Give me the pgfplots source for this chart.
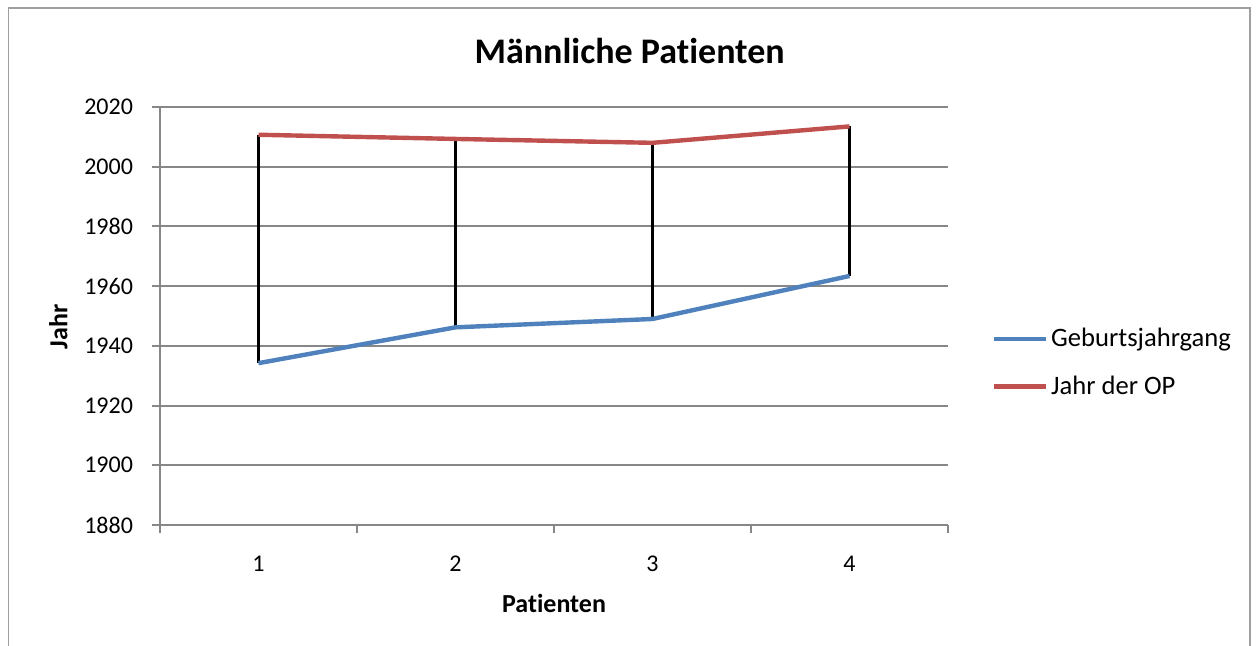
\documentclass[border=0pt]{standalone}
\usepackage{fontspec}
\setmainfont{Carlito}[Ligatures={NoCommon}]
\usepackage{pgfplots}
\pgfplotsset{compat=1.18}
\definecolor{xblue}{HTML}{4F81BD}
\definecolor{xred}{HTML}{C0504D}
\definecolor{xgrid}{HTML}{878787}
\begin{document}
\begin{tikzpicture}
\useasboundingbox (0pt,0pt) rectangle (629pt,323pt);
\draw[color=xgrid!80, line width=0.9pt] (4.2pt,0pt) -- (4.2pt,318.8pt) -- (624.8pt,318.8pt) -- (624.8pt,0pt);
\begin{axis}[
  at={(80pt,60.5pt)}, anchor=south west,
  scale only axis, width=394pt, height=209pt,
  xmin=0.5, xmax=4.5, ymin=1880, ymax=2020,
  xtick={1,2,3,4},
  minor xtick={0.5,1.5,2.5,3.5,4.5},
  ytick={1880,1900,...,2020},
  major x tick style={draw=none},
  minor x tick style={xgrid, line width=1pt},
  y tick style={xgrid, line width=1pt},
  tick align=outside,
  major tick length=4pt, minor tick length=4pt,
  axis x line*=bottom, axis y line*=left,
  axis line style={xgrid, line width=1pt, -},
  ymajorgrids, grid style={xgrid, line width=1pt},
  /pgf/number format/assume math mode=true,
  /pgf/number format/1000 sep={},
  tick label style={font=\fontsize{12}{14}\selectfont},
  xticklabel style={yshift=-8pt},
  yticklabel style={xshift=-6pt},
  xlabel={\textbf{Patienten}},
  ylabel={\textbf{Jahr}},
  label style={font=\fontsize{13}{15}\selectfont},
  xlabel style={at={(0.5,-0.187)}, anchor=center},
  ylabel style={at={(-0.129,0.474)}, anchor=center, rotate=0},
  title={\textbf{Männliche Patienten}},
  title style={font=\fontsize{18}{21}\selectfont, at={(0.596,1.105)}, anchor=center, yshift=0pt},
  legend style={draw=none, fill=none, at={(1.055,0.388)}, anchor=west,
    font=\fontsize{13.3}{15}\selectfont, row sep=9pt, inner sep=0pt,
    nodes={inner xsep=1.5pt}},
  legend cell align=left,
  legend image code/.code={\draw[#1] (0pt,0pt) -- (26pt,0pt);},
  clip=false,
]
\addplot[black, line width=1.1pt, forget plot] coordinates {(1,1934.2) (1,2010.7)};
\addplot[black, line width=1.1pt, forget plot] coordinates {(2,1946.2) (2,2009.3)};
\addplot[black, line width=1.1pt, forget plot] coordinates {(3,1949.0) (3,2008.0)};
\addplot[black, line width=1.1pt, forget plot] coordinates {(4,1963.4) (4,2013.5)};
\addplot[xblue, line width=2.2pt] coordinates {(1,1934.2) (2,1946.2) (3,1949.0) (4,1963.4)};
\addlegendentry{Geburtsjahrgang}
\addplot[xred, line width=2.2pt] coordinates {(1,2010.7) (2,2009.3) (3,2008.0) (4,2013.5)};
\addlegendentry{Jahr der OP}
\end{axis}
\end{tikzpicture}
\end{document}
